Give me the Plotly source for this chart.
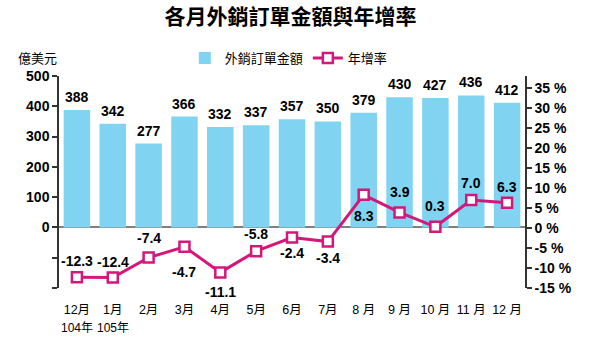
import plotly.graph_objects as go

# Monthly export orders (100 million USD) and year-over-year growth (%)
months = ["12月", "1月", "2月", "3月", "4月", "5月", "6月", "7月",
          "8 月", "9 月", "10 月", "11 月", "12 月"]
year_tags = ["104年", "105年"]          # shown under the first two months
orders = [388, 342, 277, 366, 332, 337, 357, 350, 379, 430, 427, 436, 412]
growth = [-12.3, -12.4, -7.4, -4.7, -11.1, -5.8, -2.4, -3.4, 8.3, 3.9, 0.3, 7.0, 6.3]

left_ticks = [-200, -100, 0, 100, 200, 300, 400, 500]
right_ticks = [-15, -10, -5, 0, 5, 10, 15, 20, 25, 30, 35]

# label placement for the growth line (pixels, + above / - below)
growth_label_shift = [16, 16, 20, -25, -20, 17, -15, -16, -21, 20, 21, 17, 16]

BAR_COLOR = "#80d4f1"
LINE_COLOR = "#d4177b"
NUM_FONT = "Liberation Sans Narrow, Arial Narrow, Liberation Sans, sans-serif"
CJK_FONT = "Noto Sans CJK TC, sans-serif"
MIX_FONT = "Liberation Sans, Noto Sans CJK TC, sans-serif"

# plot area in pixels (left, right, top, bottom)
PL, PR, PT, PB = 59, 525, 76, 288
PW, PH = PR - PL, PB - PT

x = list(range(len(months)))

fig = go.Figure()
fig.add_trace(go.Bar(
    x=x, y=orders, name="外銷訂單金額",
    marker=dict(color=BAR_COLOR, line=dict(width=0)),
    width=0.74, yaxis="y",
))
fig.add_trace(go.Scatter(
    x=x, y=growth, name="年增率", mode="lines+markers",
    line=dict(color=LINE_COLOR, width=3),
    marker=dict(symbol="square", size=10, color="white",
                line=dict(color=LINE_COLOR, width=2.5)),
    yaxis="y2",
))

annotations = []
# values above bars
for xi, v in zip(x, orders):
    annotations.append(dict(
        x=xi, y=v, xref="x", yref="y", text=f"<b>{v}</b>", showarrow=False,
        yshift=13, font=dict(family=NUM_FONT, size=14, color="black"),
    ))
# growth values beside markers
for xi, v, s in zip(x, growth, growth_label_shift):
    annotations.append(dict(
        x=xi, y=v, xref="x", yref="y2", text=f"<b>{v:.1f}</b>", showarrow=False,
        yshift=s, font=dict(family=NUM_FONT, size=14, color="black"),
    ))
# year tags under the first two month labels
for xi, t in zip(x, year_tags):
    annotations.append(dict(
        x=xi, y=0, xref="x", yref="paper", text=t, showarrow=False,
        yshift=-40, yanchor="middle", xanchor="center",
        font=dict(family=MIX_FONT, size=12, color="black"),
    ))
# unit label of the left axis
annotations.append(dict(
    x=(37 - PL) / PW, y=(PB - 58) / PH, xref="paper", yref="paper",
    text="億美元", showarrow=False, xanchor="center", yanchor="middle",
    font=dict(family=CJK_FONT, size=13, color="black"),
))

fig.update_layout(
    width=593, height=349,
    margin=dict(l=PL, r=593 - PR, t=PT, b=349 - PB),
    paper_bgcolor="white", plot_bgcolor="white",
    title=dict(text="<b>各月外銷訂單金額與年增率</b>", x=0.49, xanchor="center",
               y=1 - 17 / 349, yanchor="middle",
               font=dict(family=CJK_FONT, size=21, color="black")),
    showlegend=True,
    legend=dict(orientation="h", x=0.27, xanchor="left",
                y=(PB - 58) / PH, yanchor="middle",
                font=dict(family=CJK_FONT, size=13, color="black"),
                bgcolor="rgba(0,0,0,0)", itemwidth=30, tracegroupgap=0),
    xaxis=dict(
        range=[-0.5, len(months) - 0.5],
        tickvals=x, ticktext=months,
        showline=False, showgrid=False, zeroline=False,
        ticks="", ticklabelstandoff=12,
        tickfont=dict(family=MIX_FONT, size=12.5, color="black"),
    ),
    yaxis=dict(
        range=[-200, 500],
        tickvals=left_ticks,
        ticktext=[f"<b>{t}</b>" if t >= 0 else "" for t in left_ticks],
        showline=True, linecolor="#333333", linewidth=1.5,
        ticks="outside", ticklen=5, tickcolor="#333333", tickwidth=1.5,
        showgrid=False, zeroline=True, zerolinecolor="#808080", zerolinewidth=2,
        tickfont=dict(family=NUM_FONT, size=14, color="black"),
    ),
    yaxis2=dict(
        range=[-15, 38], overlaying="y", side="right",
        tickvals=right_ticks,
        ticktext=[f"<b>{t} %</b>" for t in right_ticks],
        showline=True, linecolor="#333333", linewidth=1.5,
        ticks="outside", ticklen=5, tickcolor="#333333", tickwidth=1.5,
        showgrid=False, zeroline=False,
        tickfont=dict(family=NUM_FONT, size=14, color="black"),
    ),
    annotations=annotations,
)

fig.write_html("out.html")
